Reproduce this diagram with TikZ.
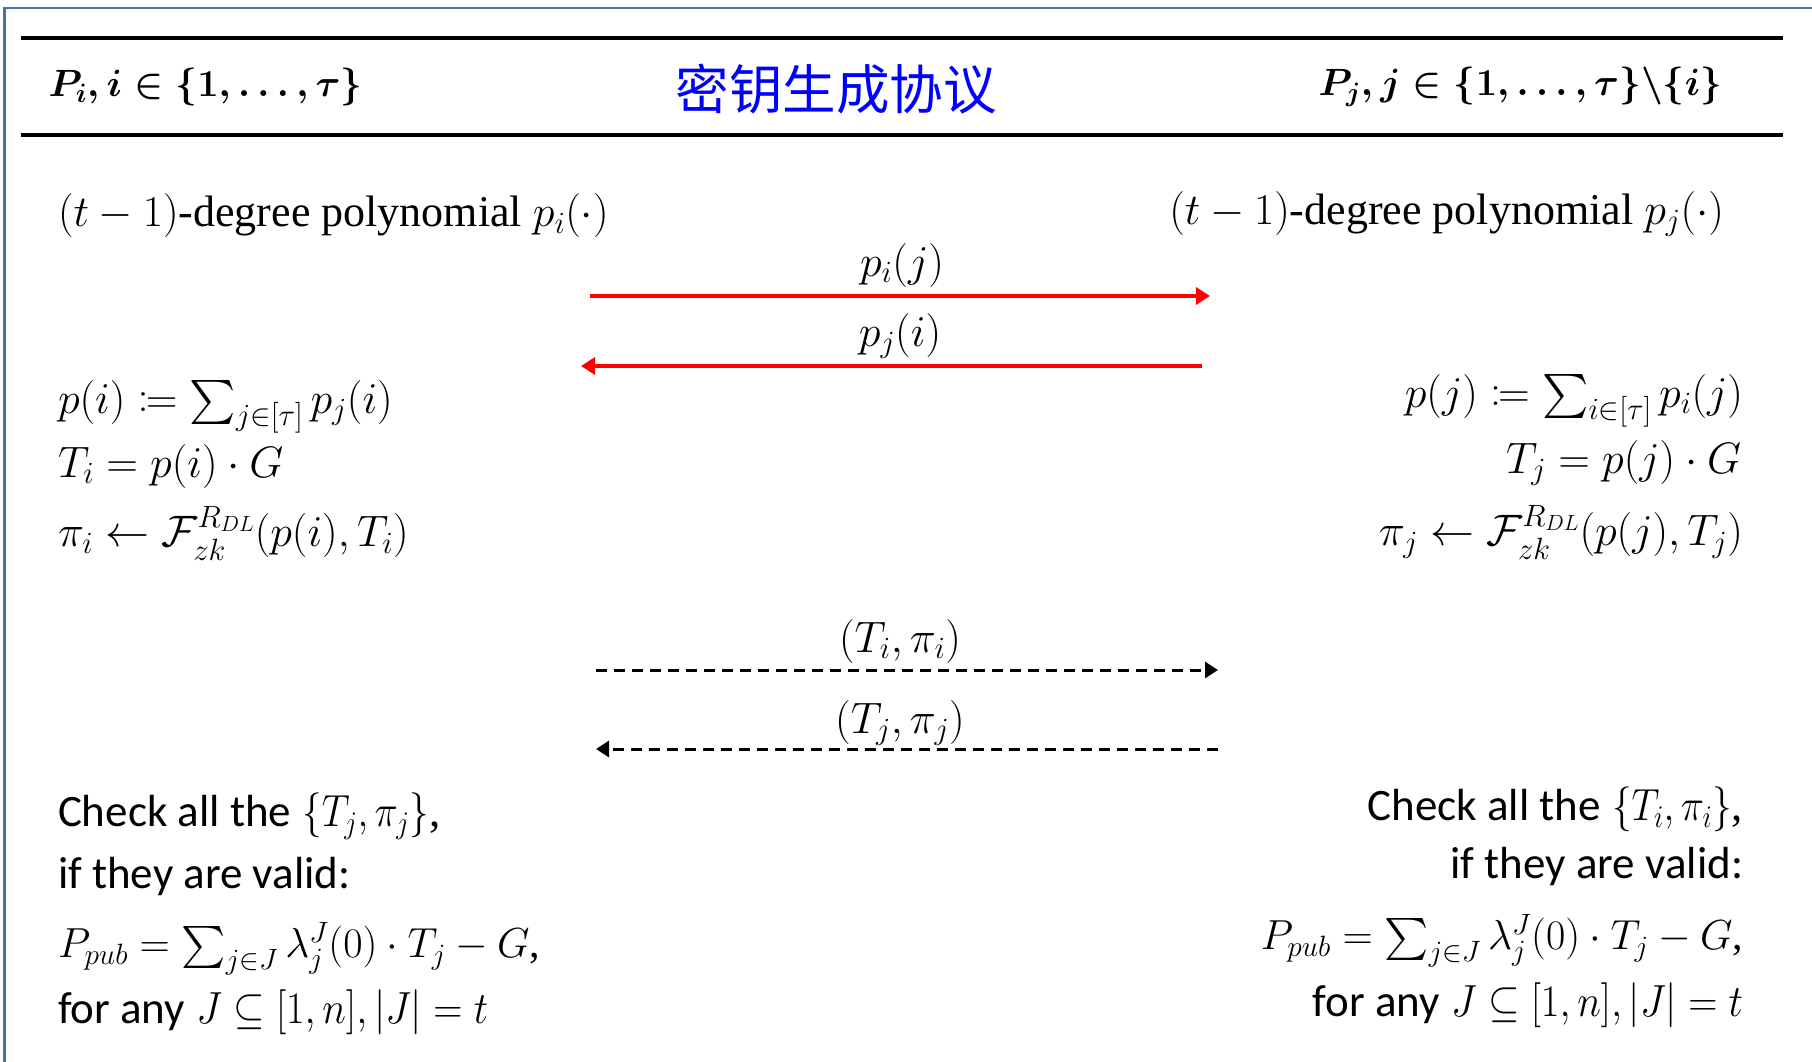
\RequirePackage{fix-cm}
\documentclass[tikz,border=0pt]{standalone}
\usepackage{amsmath,amssymb,mathtools}
\usepackage{fontspec}
\setmainfont{Liberation Serif}
\newfontfamily\calibri{Carlito}
\newfontfamily\cjk{Noto Sans CJK SC}
\usetikzlibrary{arrows.meta}
\definecolor{framecol}{RGB}{70,115,170}
\newcommand\narrowpart[2]{\scalebox{#1}[1]{#2}}
\tikzset{
  txt/.style={inner sep=0pt, outer sep=0pt},
  lft/.style={txt, anchor=west},
  rgt/.style={txt, anchor=east},
  ctr/.style={txt, anchor=center},
  bodyfont/.style={font=\fontsize{44}{52}\selectfont},
  smallbody/.style={font=\fontsize{42}{50}\selectfont},
  calfont/.style={font=\fontsize{45}{54}\selectfont},
  headfont/.style={font=\fontsize{38}{46}\selectfont},
  titlefont/.style={font=\fontsize{53.5}{62}\selectfont\cjk, text=blue},
  redarrow/.style={draw=red, line width=4.5pt, -{Triangle[length=14pt,width=17pt]}},
  dasharrow/.style={draw=black, line width=3pt, dash pattern=on 11pt off 7pt, -{Triangle[length=13pt,width=16pt]}},
  hrule/.style={line width=4pt},
  framestyle/.style={draw=framecol, line width=2.5pt}
}
\begin{document}
\begin{tikzpicture}[x=1pt,y=-1pt]
\useasboundingbox (0,0) rectangle (1812,1062);
\fill[white] (0,0) rectangle (1812,1062);
% frame
\draw[framestyle] (4.5,1062) -- (4.5,8) -- (1812,8);
% header rules
\coordinate (r1a) at (21,38); \coordinate (r1b) at (1783,38);
\coordinate (r2a) at (21,135); \coordinate (r2b) at (1783,135);
\draw[hrule] (r1a) -- (r1b);
\draw[hrule] (r2a) -- (r2b);
% header
\node[lft, headfont] (hl) at (48.5,87) {$\boldsymbol{P_i, i \in \{1, \ldots, \tau\}}$};
\node[rgt, headfont] (hr) at (1722,87) {$\boldsymbol{P_j, j \in \{1, \ldots, \tau\}\backslash\{i\}}$};
\node[ctr, titlefont] (title) at (836,89) {密钥生成协议};
% left column
\node[lft, bodyfont] (l1) at (58,216) {$(t-1)$-degree polynomial $p_i(\cdot)$};
\node[lft, bodyfont] (l2) at (58,407) {$p(i) \coloneqq \sum_{j\in[\tau]} p_j(i)$};
\node[lft, bodyfont] (l3) at (58,466) {$T_i = p(i)\cdot G$};
\node[lft, bodyfont] (l4) at (58,533) {$\pi_i \leftarrow \mathcal{F}_{zk}^{R_{DL}}(p(i),T_i)$};
\node[lft, calfont] (l5) at (58,816) {{\calibri Check all the} \narrowpart{0.87}{$\{T_j,\pi_j\}$},};
\node[lft, calfont] (l6) at (58,876) {\calibri if they are valid:};
\node[lft, smallbody] (l7) at (58,949) {$P_{pub} = \sum_{j\in J}\lambda_j^J(0)\cdot T_j - G$,};
\node[lft, calfont] (l8) at (58,1012) {{\calibri for any} \narrowpart{0.9}{$J \subseteq [1,n], |J| = t$}};
% right column
\node[rgt, bodyfont] (r1) at (1724,214) {$(t-1)$-degree polynomial $p_j(\cdot)$};
\node[rgt, bodyfont] (r2) at (1743,401) {$p(j) \coloneqq \sum_{i\in[\tau]} p_i(j)$};
\node[rgt, bodyfont] (r3) at (1741,463) {$T_j = p(j)\cdot G$};
\node[rgt, bodyfont] (r4) at (1743,532) {$\pi_j \leftarrow \mathcal{F}_{zk}^{R_{DL}}(p(j),T_j)$};
\node[rgt, calfont] (r5) at (1743,809) {{\calibri Check all the} \narrowpart{0.87}{$\{T_i,\pi_i\}$},};
\node[rgt, calfont] (r6) at (1743,866) {\calibri if they are valid:};
\node[rgt, smallbody] (r7) at (1743,941) {$P_{pub} = \sum_{j\in J}\lambda_j^J(0)\cdot T_j - G$,};
\node[rgt, calfont] (r8) at (1743,1005) {{\calibri for any} \narrowpart{0.9}{$J \subseteq [1,n], |J| = t$}};
% arrows
\coordinate (a1s) at (590,296); \coordinate (a1e) at (1210,296);
\coordinate (a2s) at (1202,366); \coordinate (a2e) at (581,366);
\coordinate (a3s) at (596,670); \coordinate (a3e) at (1218,670);
\coordinate (a4s) at (1218,749); \coordinate (a4e) at (596,749);
\draw[redarrow] (a1s) -- (a1e);
\draw[redarrow] (a2s) -- (a2e);
\draw[dasharrow] (a3s) -- (a3e);
\draw[dasharrow] (a4s) -- (a4e);
\node[ctr, bodyfont] (m1) at (902,265) {$p_i(j)$};
\node[ctr, bodyfont] (m2) at (900,336) {$p_j(i)$};
\node[ctr, bodyfont] (m3) at (900,641) {$(T_i,\pi_i)$};
\node[ctr, bodyfont] (m4) at (900,723) {$(T_j,\pi_j)$};
\end{tikzpicture}
\end{document}
